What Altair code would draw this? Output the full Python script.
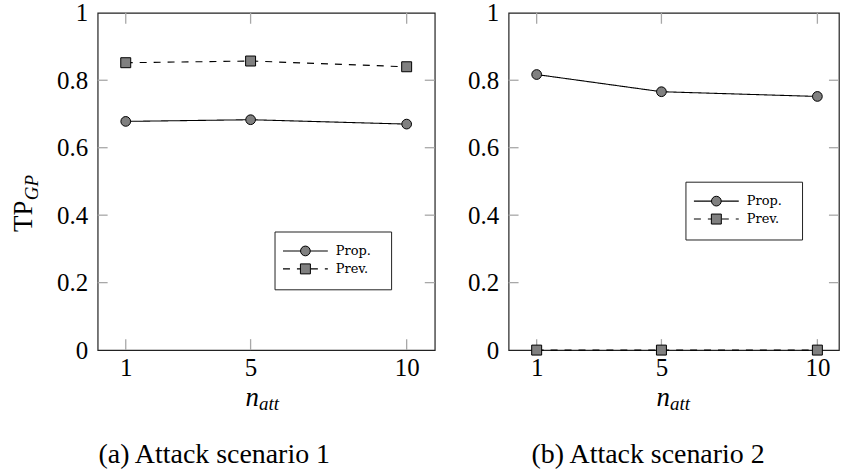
import altair as alt
import pandas as pd

# ---- data ----
n_att = [1, 5, 10]
prop_a = [0.678, 0.683, 0.670]
prev_a = [0.852, 0.857, 0.840]
prop_b = [0.817, 0.766, 0.752]
prev_b = [0.0, 0.0, 0.0]
series = ["Prop.", "Prev."]
y_ticks = [0, 0.2, 0.4, 0.6, 0.8, 1]
captions = ["(a) Attack scenario 1", "(b) Attack scenario 2"]

H = 338.5
SERIF = "Liberation Serif"
TICK = "#a8a8a8"
FILL = "#808080"

dash_scale = alt.Scale(domain=series, range=[[1, 0], [7, 7]])
shape_scale = alt.Scale(domain=series, range=["circle", "square"])
size_scale = alt.Scale(domain=series, range=[95, 100])


def legend_layers(top):
    layers = []
    layers.append(
        alt.Chart(pd.DataFrame({"k": [0]})).mark_rect(fill="white", stroke="#222", strokeWidth=1)
        .encode(x=alt.value(178), x2=alt.value(295), y=alt.value(top), y2=alt.value(top + 58))
    )
    for i, lab in enumerate(series):
        row = top + 19 + i * 18
        d = pd.DataFrame({"s": [lab]})
        layers.append(
            alt.Chart(d).mark_rule(color="black", strokeWidth=1.1)
            .encode(x=alt.value(186), x2=alt.value(231), y=alt.value(row),
                    strokeDash=alt.StrokeDash("s:N", scale=dash_scale, legend=None))
        )
        layers.append(
            alt.Chart(d).mark_point(filled=True, color=FILL, stroke="black", strokeWidth=1, opacity=1)
            .encode(x=alt.value(208.5), y=alt.value(row),
                    shape=alt.Shape("s:N", scale=shape_scale, legend=None),
                    size=alt.Size("s:N", scale=size_scale, legend=None))
        )
        layers.append(
            alt.Chart(d).mark_text(align="left", baseline="middle", font="DejaVu Serif", fontSize=13, color="black")
            .encode(x=alt.value(239), y=alt.value(row), text="s:N")
        )
    return layers


def panel(prop, prev, width, xmax, legend_top, caption, caption_x, left_panel):
    df = pd.DataFrame({
        "n": n_att * 2,
        "v": prop + prev,
        "s": [series[0]] * len(n_att) + [series[1]] * len(n_att),
    })
    xs = alt.Scale(domain=[0.1, xmax], nice=False, zero=False)
    ys = alt.Scale(domain=[0, 1], nice=False, zero=False)
    x_axis = alt.Axis(values=n_att, ticks=False, tickSize=0, domain=False, grid=False,
                      labelFont=SERIF, labelFontSize=25, labelColor="black",
                      labelPadding=6, title=None)
    y_axis = alt.Axis(values=y_ticks, ticks=False, tickSize=0, domain=False, grid=False,
                      labelFont=SERIF, labelFontSize=25, labelColor="black",
                      labelPadding=10, title=None, format="~g", labelFlush=False)

    base = alt.Chart(df)
    lines = base.mark_line(color="black", strokeWidth=1.1).encode(
        x=alt.X("n:Q", scale=xs, axis=x_axis),
        y=alt.Y("v:Q", scale=ys, axis=y_axis),
        strokeDash=alt.StrokeDash("s:N", scale=dash_scale, legend=None),
    )
    points = base.mark_point(filled=True, color=FILL, stroke="black", strokeWidth=1, opacity=1).encode(
        x=alt.X("n:Q", scale=xs),
        y=alt.Y("v:Q", scale=ys),
        shape=alt.Shape("s:N", scale=shape_scale, legend=None),
        size=alt.Size("s:N", scale=size_scale, legend=None),
    )

    yt = alt.Chart(pd.DataFrame({"t": y_ticks})).transform_filter("datum.t > 0 && datum.t < 1")
    xt = alt.Chart(pd.DataFrame({"n": n_att}))
    ticks = [
        yt.mark_rule(color=TICK, strokeWidth=1.3).encode(
            y=alt.Y("t:Q", scale=ys), x=alt.value(0), x2=alt.value(10)),
        yt.mark_rule(color=TICK, strokeWidth=1.3).encode(
            y=alt.Y("t:Q", scale=ys), x=alt.value(width - 10), x2=alt.value(width)),
        xt.mark_rule(color=TICK, strokeWidth=1.3).encode(
            x=alt.X("n:Q", scale=xs), y=alt.value(H - 11), y2=alt.value(H)),
        xt.mark_rule(color=TICK, strokeWidth=1.3).encode(
            x=alt.X("n:Q", scale=xs), y=alt.value(0), y2=alt.value(11)),
    ]

    one = pd.DataFrame({"k": [0]})
    texts = [
        alt.Chart(one).mark_text(text="n", font=SERIF, fontStyle="italic", fontSize=27,
                                 align="right", baseline="alphabetic", color="black")
        .encode(x=alt.value(162), y=alt.value(395)),
        alt.Chart(one).mark_text(text="att", font=SERIF, fontStyle="italic", fontSize=19,
                                 align="left", baseline="alphabetic", color="black")
        .encode(x=alt.value(162), y=alt.value(399)),
        alt.Chart(one).mark_text(text=caption, font=SERIF, fontSize=28,
                                 align="center", baseline="alphabetic", color="black")
        .encode(x=alt.value(caption_x), y=alt.value(452)),
    ]
    if left_panel:
        texts += [
            alt.Chart(one).mark_text(text="TP", font=SERIF, fontSize=27, angle=270,
                                     align="left", baseline="alphabetic", color="black")
            .encode(x=alt.value(-66), y=alt.value(220)),
            alt.Chart(one).mark_text(text="GP", font=SERIF, fontStyle="italic", fontSize=19, angle=270,
                                     align="left", baseline="alphabetic", color="black")
            .encode(x=alt.value(-60), y=alt.value(188)),
            # invisible spacer fixing the left/top margin of the whole figure
            alt.Chart(one).mark_rect(opacity=0)
            .encode(x=alt.value(-96.7), x2=alt.value(0), y=alt.value(-14), y2=alt.value(H)),
        ]

    layers = [lines] + ticks + [points] + legend_layers(legend_top) + texts
    return alt.layer(*layers).properties(width=width, height=H)


left = panel(prop_a, prev_a, 338.3, 10.9, 220, captions[0], 117, True)
right = panel(prop_b, prev_b, 331.5, 10.69, 170, captions[1], 140, False)

chart = (
    alt.hconcat(left, right, spacing=73.4, bounds="flush")
    .properties(padding={"left": 0, "top": -3, "right": 0, "bottom": 0}, background="white")
    .configure_view(stroke="#222", strokeWidth=1.2)
)

chart.save("out.html", embed_options={"renderer": "svg", "actions": False})
